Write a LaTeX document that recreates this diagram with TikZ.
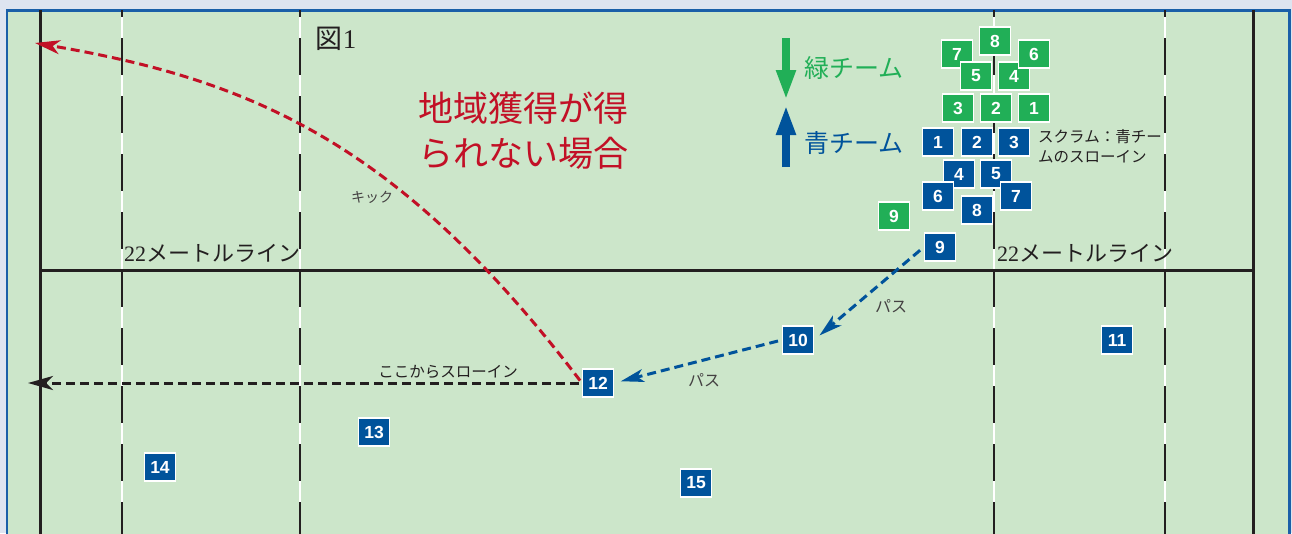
\documentclass[tikz,border=0pt]{standalone}
\usepackage{fontspec}
\setmainfont{Liberation Serif}
\setsansfont{Liberation Sans}
\newfontfamily\jp{Noto Sans CJK JP}
\usetikzlibrary{arrows.meta}
\definecolor{pitch}{RGB}{204,230,202}
\definecolor{outside}{RGB}{222,228,240}
\definecolor{frameblue}{RGB}{26,95,168}
\definecolor{teamgreen}{RGB}{33,175,87}
\definecolor{teamblue}{RGB}{0,83,155}
\definecolor{kickred}{RGB}{194,16,38}
\definecolor{ink}{RGB}{35,31,32}
\begin{document}
\begin{tikzpicture}[x=1pt,y=-1pt,
  player/.style={fill=#1,draw=white,line width=1.2pt,text=white,inner sep=0pt,
    minimum width=31pt,minimum height=28pt,font=\sffamily\bfseries\fontsize{17.5}{17.5}\selectfont},
  gteam/.style={player=teamgreen},
  bteam/.style={player=teamblue},
  jtext/.style={font={\jp\fontsize{#1}{#1}\selectfont}},
  dashline/.style={line width=3pt,dash pattern=on 9pt off 5pt},
  pass/.style={dashline,teamblue,-{Stealth[length=23pt,width=13pt,inset=6pt]}},
  kick/.style={dashline,kickred,-{Stealth[length=25pt,width=14pt,inset=7pt]}},
  throw/.style={dashline,ink,-{Stealth[length=25pt,width=14pt,inset=7pt]}}]
\useasboundingbox (0,0) rectangle (1292,533);
\clip (0,0) rectangle (1292,533);
\fill[outside] (0,0) rectangle (1292,533);
\fill[pitch] (7,10.5) rectangle (1289.5,540);
\draw[frameblue,line width=2.5pt] (7,540) -- (7,10.5) -- (1289.5,10.5) -- (1289.5,540);
\foreach \x in {122,300,994,1165} {
  \draw[white,line width=1.5pt] (\x,10) -- (\x,540);
  \draw[ink,line width=2pt,dash pattern=on 37pt off 21pt,dash phase=30pt] (\x,10) -- (\x,540);
}
\draw[ink,line width=3pt] (40,10) -- (40,540);
\draw[ink,line width=3pt] (1253.5,10) -- (1253.5,540);
\draw[ink,line width=3pt] (40,270) -- (1253.5,270);
\node[font=\fontsize{27}{27}\selectfont,text=ink] (fig) at (336,39) {{\jp 図}1};
\node[font=\fontsize{22}{22}\selectfont,text=ink,anchor=west,inner sep=0pt] (line22l) at (124,253) {22\jp メートルライン};
\node[font=\fontsize{22}{22}\selectfont,text=ink,anchor=west,inner sep=0pt] (line22r) at (997,253) {22\jp メートルライン};
\node[font={\jp\fontsize{35}{45}\selectfont},text=kickred,anchor=west,align=left,inner sep=0pt] (title) at (418,130.5) {地域獲得が得\\られない場合};
\draw[teamgreen,line width=8pt,-{Triangle[length=30pt,width=18pt]}] (786,38) -- (786,100);
\draw[teamblue,line width=8pt,-{Triangle[length=30pt,width=18pt]}] (786,167) -- (786,105);
\node[jtext=25,text=teamgreen,anchor=west,inner sep=0pt] (greenlabel) at (804,68) {緑チーム};
\node[jtext=25,text=teamblue,anchor=west,inner sep=0pt] (bluelabel) at (804,143) {青チーム};
\node[font={\jp\fontsize{15.5}{20}\selectfont},text=ink,anchor=west,align=left,inner sep=0pt] (scrum) at (1038,146) {スクラム：青チー\\ムのスローイン};
\node[gteam] (g7) at (957,54) {7};
\node[gteam] (g5) at (976,76) {5};
\node[gteam] (g4) at (1014,76) {4};
\node[gteam] (g6) at (1034,54) {6};
\node[gteam] (g8) at (995,41) {8};
\node[gteam] (g3) at (958,108) {3};
\node[gteam] (g2) at (996,108) {2};
\node[gteam] (g1) at (1034,108) {1};
\node[gteam] (g9) at (894,216) {9};
\node[bteam] (b1) at (938,142) {1};
\node[bteam] (b2) at (977,142) {2};
\node[bteam] (b3) at (1014,142) {3};
\node[bteam] (b4) at (959,174) {4};
\node[bteam] (b5) at (996,174) {5};
\node[bteam] (b6) at (938,196) {6};
\node[bteam] (b7) at (1016,196) {7};
\node[bteam] (b8) at (977,210) {8};
\node[bteam] (b9) at (940,247) {9};
\node[bteam] (b10) at (798,340) {10};
\node[bteam] (b11) at (1117,340) {11};
\node[bteam] (b12) at (598,383) {12};
\node[bteam] (b13) at (374,432) {13};
\node[bteam] (b14) at (160,467) {14};
\node[bteam] (b15) at (696,483) {15};
\coordinate (kickend) at (35,43);
\coordinate (throwend) at (28,383);
\draw[pass,shorten <=5pt,shorten >=7pt] (b9.west) -- (b10.east);
\draw[pass,shorten <=4pt,shorten >=7pt] (b10.west) -- (b12.east);
\draw[throw,shorten <=3pt] (b12.west) -- (throwend);
\draw[kick,shorten <=3pt] (b12.west) .. controls (399,143) and (252,80) .. (kickend);
\node[jtext=16,text=ink!85] (pass1) at (891,306) {パス};
\node[jtext=16,text=ink!85] (pass2) at (704,380) {パス};
\node[jtext=14,text=ink!85] (kicklabel) at (372,197) {キック};
\node[jtext=15.5,text=ink] (throwlabel) at (448,372) {ここからスローイン};
\end{tikzpicture}
\end{document}
